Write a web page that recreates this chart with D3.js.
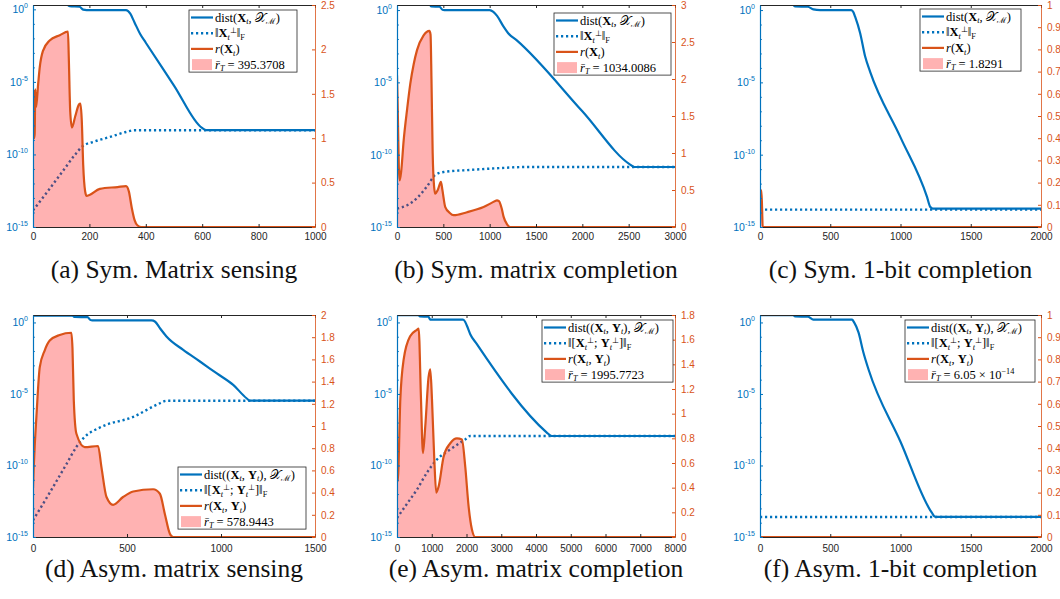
<!DOCTYPE html>
<html>
<head>
<meta charset="utf-8">
<script src="https://cdn.jsdelivr.net/npm/d3@7"></script>
<style>
  body { margin: 0; background: #fff; }
  svg { display: block; }
</style>
</head>
<body>
<div id="chart"></div>
<script>
// ---- data: [iteration, log10(value)] for the left (log) axis, [iteration, value] for the right axis
const aDist = [[0,0.3],[122,0.3],[130,0.22],[165,0.18],[178,-0.02],[190,-0.05],[330,-0.05],[345,-0.3],[360,-0.9],[380,-1.7],[400,-2.3],[500,-5.25],[598,-8.15],[615,-8.33],[1000,-8.33]];
const aPerp = [[0,-13.85],[50,-12.6],[100,-11.3],[150,-10.0],[175,-9.45],[220,-9.1],[280,-8.75],[330,-8.45],[360,-8.33],[1000,-8.33]];
const aRank = [[0,1.55],[2,1.5],[4,1.0],[6,1.05],[8,1.55],[11,1.35],[18,1.6],[24,1.8],[35,1.98],[59,2.1],[95,2.16],[124,2.2],[127,1.9],[132,1.3],[138,1.12],[150,1.25],[163,1.38],[168,1.39],[173,1.2],[178,0.7],[185,0.4],[190,0.35],[200,0.36],[237,0.43],[300,0.45],[330,0.46],[340,0.4],[350,0.22],[360,0.08],[370,0.02],[385,0],[1000,0]];

const bDist = [[0,0.35],[355,0.35],[370,0.25],[460,0.23],[490,0.02],[510,0],[1000,0],[1040,-0.12],[1080,-0.4],[1150,-1.15],[1200,-1.6],[1290,-2.08],[2000,-7.0],[2520,-10.7],[2560,-10.85],[3000,-10.85]];
const bPerp = [[0,-13.73],[108,-13.5],[216,-13.0],[323,-12.2],[413,-11.4],[503,-11.2],[800,-11.05],[1100,-10.93],[1400,-10.85],[3000,-10.85]];
const bRank = [[0,2.05],[8,1.6],[20,0.8],[29,0.63],[45,0.75],[72,1.17],[110,1.6],[144,1.94],[180,2.2],[216,2.39],[287,2.59],[350,2.65],[362,2.6],[372,2.0],[385,1.0],[400,0.55],[413,0.45],[440,0.5],[474,0.61],[490,0.5],[521,0.27],[570,0.19],[611,0.16],[755,0.2],[934,0.27],[1060,0.35],[1078,0.36],[1100,0.35],[1130,0.25],[1150,0.14],[1186,0.04],[1222,0],[3000,0]];

const cDist = [[0,0.35],[235,0.35],[250,0.25],[340,0.23],[380,0.05],[428,0],[650,0],[665,-0.15],[677,-0.46],[713,-1.6],[748,-3.2],[784,-4.27],[1000,-8.8],[1188,-12.9],[1211,-13.6],[1230,-13.73],[2000,-13.73]];
const cPerp = [[0,-13.8],[2000,-13.8]];
const cRank = [[0,0.12],[5,0.165],[10,0.165],[15,0.08],[19,0],[2000,0]];

const dDist = [[0,0.47],[210,0.47],[222,0.38],[290,0.37],[305,0.18],[315,0.14],[630,0.14],[650,0.05],[675,-0.4],[710,-0.98],[799,-1.92],[888,-2.73],[976,-3.55],[1065,-4.37],[1136,-5.3],[1154,-5.47],[1500,-5.47]];
const dPerp = [[0,-13.83],[89,-11.9],[178,-9.9],[231,-8.7],[275,-8.0],[355,-7.35],[533,-6.6],[675,-5.65],[710,-5.47],[1500,-5.47]];
const dRank = [[0,0.44],[4,0.63],[10,0.85],[18,1.08],[36,1.53],[62,1.68],[89,1.77],[142,1.82],[204,1.84],[210,1.7],[217,1.23],[231,0.93],[275,0.81],[346,0.82],[364,0.63],[391,0.36],[426,0.29],[479,0.36],[533,0.41],[639,0.43],[675,0.39],[701,0.21],[728,0.03],[746,0],[1500,0]];

const eDist = [[0,0.51],[620,0.51],[660,0.42],[900,0.4],[960,0.2],[1006,0.19],[1900,0.19],[1960,0.05],[2012,-0.23],[2108,-0.82],[2299,-1.52],[4311,-7.7],[4407,-7.9],[4450,-7.94],[8000,-7.94]];
const ePerp = [[0,-13.67],[287,-12.68],[575,-11.68],[862,-10.5],[1150,-9.58],[1533,-8.88],[1964,-8.18],[2108,-7.94],[8000,-7.94]];
const eRank = [[0,0.68],[20,0.45],[96,1.12],[192,1.44],[383,1.63],[575,1.68],[623,1.69],[690,1.12],[747,0.68],[814,0.9],[910,1.3],[958,1.36],[1006,1.12],[1073,0.63],[1130,0.36],[1198,0.41],[1341,0.65],[1533,0.76],[1724,0.8],[1868,0.79],[1964,0.57],[2060,0.25],[2156,0.06],[2251,0],[8000,0]];

const fDist = [[0,0.51],[235,0.51],[250,0.42],[340,0.4],[380,0.2],[428,0.19],[655,0.19],[670,0.0],[701,-0.7],[736,-2.1],[772,-3.27],[1000,-8.34],[1223,-13.3],[1247,-13.6],[2000,-13.6]];
const fPerp = [[0,-13.6],[2000,-13.6]];
const fRank = [[0,0],[2000,0]];

// axis ticks
const xTicksA = [0,200,400,600,800,1000];
const xTicksB = [0,500,1000,1500,2000,2500,3000];
const xTicksC = [0,500,1000,1500,2000];
const xTicksD = [0,500,1000,1500];
const xTicksE = [0,1000,2000,3000,4000,5000,6000,7000,8000];
const rTicksA = [0,0.5,1,1.5,2,2.5];
const rTicksB = [0,0.5,1,1.5,2,2.5,3];
const rTicksC = [0,0.1,0.2,0.3,0.4,0.5,0.6,0.7,0.8,0.9,1];
const rTicksD = [0,0.2,0.4,0.6,0.8,1,1.2,1.4,1.6,1.8,2];
const rTicksE = [0,0.2,0.4,0.6,0.8,1,1.2,1.4,1.6,1.8];
const logMajor = [0,-5,-10,-15];

const captions = ["(a) Sym. Matrix sensing","(b) Sym. matrix completion","(c) Sym. 1-bit completion",
                  "(d) Asym. matrix sensing","(e) Asym. matrix completion","(f) Asym. 1-bit completion"];
const rBar = ["395.3708","1034.0086","1.8291","578.9443","1995.7723",null];

const BLUE = "#0072BD", ORANGE = "#D95319", AX = "#262626";
const SERIF = "'Liberation Serif', 'Times New Roman', serif";
const SANS = "'Liberation Sans', Arial, sans-serif";

const panels = [
  {x:33, y:5, w:282, h:222, xMax:1000, xTicks:xTicksA, top:0.3, rMax:2.5, rTicks:rTicksA, dist:aDist, perp:aPerp, rank:aRank, asym:false, lg:{x:189, y:10, w:108}, capY:51, tickPad:6},
  {x:397, y:5, w:278, h:222, xMax:3000, xTicks:xTicksB, top:0.35, rMax:3, rTicks:rTicksB, dist:bDist, perp:bPerp, rank:bRank, asym:false, lg:{x:554, y:13, w:117}, capY:51, tickPad:6},
  {x:760, y:5, w:281, h:222, xMax:2000, xTicks:xTicksC, top:0.35, rMax:1, rTicks:rTicksC, dist:cDist, perp:cPerp, rank:cRank, asym:false, lg:{x:920, y:9, w:101}, capY:51, tickPad:6},
  {x:33, y:315, w:282, h:222, xMax:1500, xTicks:xTicksD, top:0.52, rMax:2, rTicks:rTicksD, dist:dDist, perp:dPerp, rank:dRank, asym:true, lg:{x:178, y:467, w:128}, capY:40, tickPad:8},
  {x:397, y:315, w:278, h:222, xMax:8000, xTicks:xTicksE, top:0.52, rMax:1.8, rTicks:rTicksE, dist:eDist, perp:ePerp, rank:eRank, asym:true, lg:{x:542, y:320, w:131}, capY:40, tickPad:8},
  {x:760, y:315, w:281, h:222, xMax:2000, xTicks:xTicksC, top:0.52, rMax:1, rTicks:rTicksC, dist:fDist, perp:fPerp, rank:fRank, asym:true, lg:{x:905, y:320, w:130}, capY:40, tickPad:8}
];

const svg = d3.select("#chart").append("svg")
  .attr("width", 1060).attr("height", 599)
  .attr("viewBox", "0 0 1060 599");

// writes a small math-ish label made of tspans
function mathText(sel, x, y, parts, size) {
  const t = sel.append("text").attr("x", x).attr("y", y)
    .attr("font-family", SERIF).attr("font-size", size).attr("fill", "#000");
  let shift = 0;
  parts.forEach(p => {
    const [s, k] = p;
    let target = 0, fs = size;
    const sp = t.append("tspan");
    if (k === "b") sp.attr("font-weight", "bold");
    if (k === "i") sp.attr("font-style", "italic");
    if (k === "sub" || k === "subi") { target = 0.22 * size; fs = 0.66 * size; }
    if (k === "sup") { target = -0.36 * size; fs = 0.66 * size; }
    if (k === "subi") sp.attr("font-style", "italic");
    sp.attr("dy", target - shift).attr("font-size", fs).text(s);
    shift = target;
  });
  return t;
}

function legendParts(asym, rb) {
  const X = [["X","b"],["t","subi"]];
  const Y = [["Y","b"],["t","subi"]];
  const dist = asym
    ? [["dist((","r"], ...X, [", ","r"], ...Y, ["), ","r"], ["𝒳","r"], ["ℳ","sub"], [")","r"]]
    : [["dist(","r"], ...X, [", ","r"], ["𝒳","r"], ["ℳ","sub"], [")","r"]];
  const perp = asym
    ? [["‖[","r"], ["X","b"], ["t","subi"], ["⊥","sup"], ["; ","r"], ["Y","b"], ["t","subi"], ["⊥","sup"], ["]‖","r"], ["F","sub"]]
    : [["‖","r"], ["X","b"], ["t","subi"], ["⊥","sup"], ["‖","r"], ["F","sub"]];
  const rank = asym
    ? [["r","i"], ["(","r"], ...X, [", ","r"], ...Y, [")","r"]]
    : [["r","i"], ["(","r"], ...X, [")","r"]];
  const rt = rb
    ? [["r̄","i"], ["T","subi"], [" = " + rb, "r"]]
    : [["r̄","i"], ["T","subi"], [" = 6.05 × 10","r"], ["−14","sup"]];
  return [dist, perp, rank, rt];
}

panels.forEach((p, i) => {
  const g = svg.append("g").attr("transform", `translate(${p.x},${p.y})`);
  const x = d3.scaleLinear().domain([0, p.xMax]).range([0, p.w]);
  const yL = d3.scaleLog().domain([1e-15, Math.pow(10, p.top)]).range([p.h, 0]);
  const yR = d3.scaleLinear().domain([0, p.rMax]).range([p.h, 0]);

  const clipId = "clip" + i;
  g.append("clipPath").attr("id", clipId)
    .append("rect").attr("x", 0).attr("y", 0).attr("width", p.w).attr("height", p.h);
  const plot = g.append("g").attr("clip-path", `url(#${clipId})`);

  const lineL = d3.line().x(d => x(d[0])).y(d => yL(Math.pow(10, d[1]))).curve(d3.curveMonotoneX);
  const lineR = d3.line().x(d => x(d[0])).y(d => yR(d[1])).curve(d3.curveMonotoneX);
  const areaR = d3.area().x(d => x(d[0])).y0(yR(0)).y1(d => yR(d[1])).curve(d3.curveMonotoneX);

  plot.append("path").attr("d", lineL(p.dist))
    .attr("fill", "none").attr("stroke", BLUE).attr("stroke-width", 2.2);
  plot.append("path").attr("d", lineL(p.perp))
    .attr("fill", "none").attr("stroke", BLUE).attr("stroke-width", 2.4)
    .attr("stroke-dasharray", "2.2,2.8");
  plot.append("path").attr("d", areaR(p.rank))
    .attr("fill", "red").attr("fill-opacity", 0.3);
  plot.append("path").attr("d", lineR(p.rank))
    .attr("fill", "none").attr("stroke", ORANGE).attr("stroke-width", 2.2);

  // bottom axis
  const gx = g.append("g").attr("transform", `translate(0,${p.h})`)
    .call(d3.axisBottom(x).tickValues(p.xTicks).tickSizeInner(-3).tickSizeOuter(0)
      .tickPadding(p.tickPad).tickFormat(d3.format("d")));
  gx.select(".domain").attr("stroke", AX);
  gx.selectAll(".tick line").attr("stroke", AX);
  gx.selectAll("text").attr("font-family", SANS).attr("font-size", 10).attr("fill", AX);

  // top edge
  const gt = g.append("g")
    .call(d3.axisTop(x).tickValues(p.xTicks).tickSizeInner(-3).tickSizeOuter(0).tickFormat(""));
  gt.select(".domain").attr("stroke", AX);
  gt.selectAll(".tick line").attr("stroke", AX);

  // left log axis: minor decades then labelled majors
  const minor = d3.range(-15, 1).filter(e => logMajor.indexOf(e) < 0).map(e => Math.pow(10, e));
  const gm = g.append("g")
    .call(d3.axisLeft(yL).tickValues(minor).tickSizeInner(-1.8).tickSizeOuter(0).tickFormat(""));
  gm.select(".domain").remove();
  gm.selectAll(".tick line").attr("stroke", BLUE);
  const gy = g.append("g")
    .call(d3.axisLeft(yL).tickValues(logMajor.map(e => Math.pow(10, e))).tickSizeInner(-3).tickSizeOuter(0).tickPadding(5).tickFormat(""));
  gy.select(".domain").attr("stroke", BLUE).attr("stroke-width", 1.2);
  gy.selectAll(".tick line").attr("stroke", BLUE);
  gy.selectAll(".tick text").each(function(d) {
    const t = d3.select(this).attr("font-family", SANS).attr("font-size", 10.5).attr("fill", BLUE);
    t.append("tspan").text("10");
    t.append("tspan").attr("dy", -5).attr("font-size", 7).text(Math.round(Math.log10(d)));
  });

  // right linear axis
  const gr = g.append("g").attr("transform", `translate(${p.w},0)`)
    .call(d3.axisRight(yR).tickValues(p.rTicks).tickSizeInner(-3).tickSizeOuter(0).tickPadding(6).tickFormat(d3.format("~g")));
  gr.select(".domain").attr("stroke", ORANGE).attr("stroke-opacity", 0.8);
  gr.selectAll(".tick line").attr("stroke", ORANGE);
  gr.selectAll("text").attr("font-family", SANS).attr("font-size", 10).attr("fill", ORANGE);

  // caption
  svg.append("text")
    .attr("x", p.x + p.w / 2).attr("y", p.y + p.h + p.capY)
    .attr("text-anchor", "middle").attr("font-family", SERIF).attr("font-size", 25.5)
    .attr("fill", "#111").text(captions[i]);

  // legend
  const lg = svg.append("g");
  const rowH = 15.7, pad = 7.5;
  const lh = pad * 2 + rowH * 3;
  lg.append("rect").attr("x", p.lg.x).attr("y", p.lg.y).attr("width", p.lg.w).attr("height", lh)
    .attr("fill", "#fff").attr("stroke", "#262626").attr("stroke-width", 0.8);
  const parts = legendParts(p.asym, rBar[i]);
  parts.forEach((pt, k) => {
    const cy = p.lg.y + pad + k * rowH;
    const sx0 = p.lg.x + 2, sx1 = p.lg.x + 24;
    if (k === 0) lg.append("line").attr("x1", sx0).attr("x2", sx1).attr("y1", cy).attr("y2", cy)
      .attr("stroke", BLUE).attr("stroke-width", 2.2);
    if (k === 1) lg.append("line").attr("x1", sx0).attr("x2", sx1).attr("y1", cy).attr("y2", cy)
      .attr("stroke", BLUE).attr("stroke-width", 2.4).attr("stroke-dasharray", "2.2,2.8");
    if (k === 2) lg.append("line").attr("x1", sx0).attr("x2", sx1).attr("y1", cy).attr("y2", cy)
      .attr("stroke", ORANGE).attr("stroke-width", 2.2);
    if (k === 3) lg.append("rect").attr("x", sx0 + 1).attr("y", cy - 5.5).attr("width", 20).attr("height", 11)
      .attr("fill", "red").attr("fill-opacity", 0.3);
    mathText(lg, p.lg.x + 26, cy + 4, pt, 12.5);
  });
});
</script>
</body>
</html>
